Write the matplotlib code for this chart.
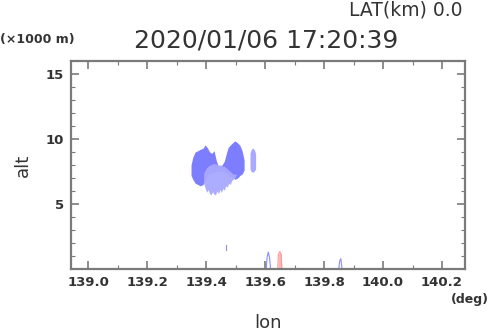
import matplotlib
matplotlib.use("Agg")
import matplotlib.pyplot as plt

# ---- data ----
title_text = "2020/01/06 17:20:39"
lat_text = "LAT(km) 0.0"
xticks = [139.0, 139.2, 139.4, 139.6, 139.8, 140.0, 140.2]
yticks = [5, 10, 15]

# upper (darker) echo region: lon, bottom alt, top alt
dark_lon = [139.349, 139.355, 139.363, 139.372, 139.380, 139.390, 139.397, 139.405,
            139.412, 139.420, 139.427, 139.434, 139.441, 139.448, 139.454, 139.462,
            139.470, 139.475, 139.485, 139.492, 139.498, 139.507, 139.515, 139.522, 139.529]
dark_bot = [7.2, 6.9, 6.6, 6.5, 6.4, 6.5, 6.9, 7.2, 7.3, 7.4, 7.4, 7.5, 7.5, 7.5,
            7.5, 7.4, 7.3, 7.2, 7.1, 7.0, 6.9, 7.0, 7.2, 7.3, 7.6]
dark_top = [8.0, 8.6, 9.0, 9.1, 9.2, 9.3, 9.55, 9.3, 9.0, 8.9, 9.1, 8.4, 7.9, 7.9,
            8.0, 8.3, 9.0, 9.35, 9.6, 9.75, 9.85, 9.7, 9.5, 9.1, 8.4]

# lower (lighter) echo region
light_lon = [139.392, 139.397, 139.402, 139.407, 139.412, 139.417, 139.422, 139.427,
             139.432, 139.437, 139.442, 139.447, 139.452, 139.457, 139.462, 139.467,
             139.472, 139.477, 139.482, 139.487, 139.492, 139.497, 139.502]
light_bot = [6.6, 6.2, 5.9, 6.1, 5.8, 5.7, 5.95, 5.75, 5.7, 6.0, 5.8, 6.1, 5.9, 6.2,
             6.05, 6.4, 6.3, 6.6, 6.5, 6.8, 6.9, 7.0, 7.2]
light_top = [7.4, 7.6, 7.8, 7.9, 8.0, 8.0, 8.1, 8.1, 8.1, 8.0, 8.0, 8.0, 8.0, 7.9,
             7.9, 7.8, 7.7, 7.6, 7.5, 7.4, 7.3, 7.3, 7.3]

# isolated small cell
cell_lon = [139.549, 139.553, 139.558, 139.563, 139.568]
cell_bot = [7.7, 7.5, 7.45, 7.5, 7.7]
cell_top = [8.9, 9.2, 9.3, 9.2, 8.9]

# near-ground contours
blue1_lon = [139.604, 139.607, 139.611, 139.615, 139.619]
blue1_top = [0.0, 0.9, 1.3, 0.9, 0.0]
pink_lon = [139.643, 139.645, 139.650, 139.655, 139.657]
pink_top = [0.0, 1.1, 1.35, 1.1, 0.0]
blue2_lon = [139.850, 139.853, 139.857, 139.861]
blue2_top = [0.0, 0.6, 0.8, 0.0]
tick_lon = [139.466, 139.466]
tick_alt = [1.5, 1.85]

# ---- plot ----
fig = plt.figure(figsize=(4.9, 3.31), dpi=100)
ax = fig.add_axes([71/490, 1-269/331, (465-71)/490, (269-61)/331])

ax.fill_between(dark_lon, dark_bot, dark_top, color="#7d7dff", lw=0)
ax.fill_between(light_lon, light_bot, light_top, color="#a9a9ff", lw=0, alpha=0.95)
ax.fill_between(cell_lon, cell_bot, cell_top, color="#a9a9ff", lw=0)
ax.plot(blue1_lon, blue1_top, color="#8c8cff", lw=0.8)
ax.fill_between(pink_lon, 0, pink_top, color="#ffb8b8", lw=0)
ax.plot(pink_lon, pink_top, color="#ff9a9a", lw=0.8)
ax.plot(blue2_lon, blue2_top, color="#8c8cff", lw=0.8)
ax.plot(tick_lon, tick_alt, color="#8c8cff", lw=0.8)

ax.set_xlim(138.942, 140.278)
ax.set_ylim(0, 16)
ax.set_xticks(xticks)
ax.set_xticklabels([f"{v:.1f}" for v in xticks])
ax.set_xticks([138.95 + 0.1*i + 0.05 for i in range(13)], minor=True)
ax.set_yticks(yticks)
ax.set_yticks(list(range(1, 16)), minor=True)

for s in ax.spines.values():
    s.set_color("#7a7a7a")
    s.set_linewidth(1.6)
ax.tick_params(which="both", direction="in", top=True, right=True, color="#7a7a7a")
ax.tick_params(which="major", length=6, width=1.2, labelsize=9.5, labelcolor="#333333", pad=5)
ax.tick_params(which="minor", length=3, width=0.8)
for lab in ax.get_xticklabels() + ax.get_yticklabels():
    lab.set_fontweight("bold")

ax.set_xlabel("lon", fontsize=13, color="#333333", labelpad=18)
ax.set_ylabel("alt", fontsize=13, color="#333333", labelpad=10)

fig.text(266/490, 1-41/331, title_text, fontsize=18, color="#333333", ha="center", va="center")
fig.text(462/490, 1-10/331, lat_text, fontsize=13.5, color="#333333", ha="right", va="center")
fig.text(0/490, 1-39/331, "(\u00d71000 m)", fontsize=9, color="#333333", ha="left", va="center", fontweight="bold")
fig.text(489/490, 1-300/331, "(deg)", fontsize=9, color="#333333", ha="right", va="center", fontweight="bold")

fig.savefig("out.png", dpi=100)
